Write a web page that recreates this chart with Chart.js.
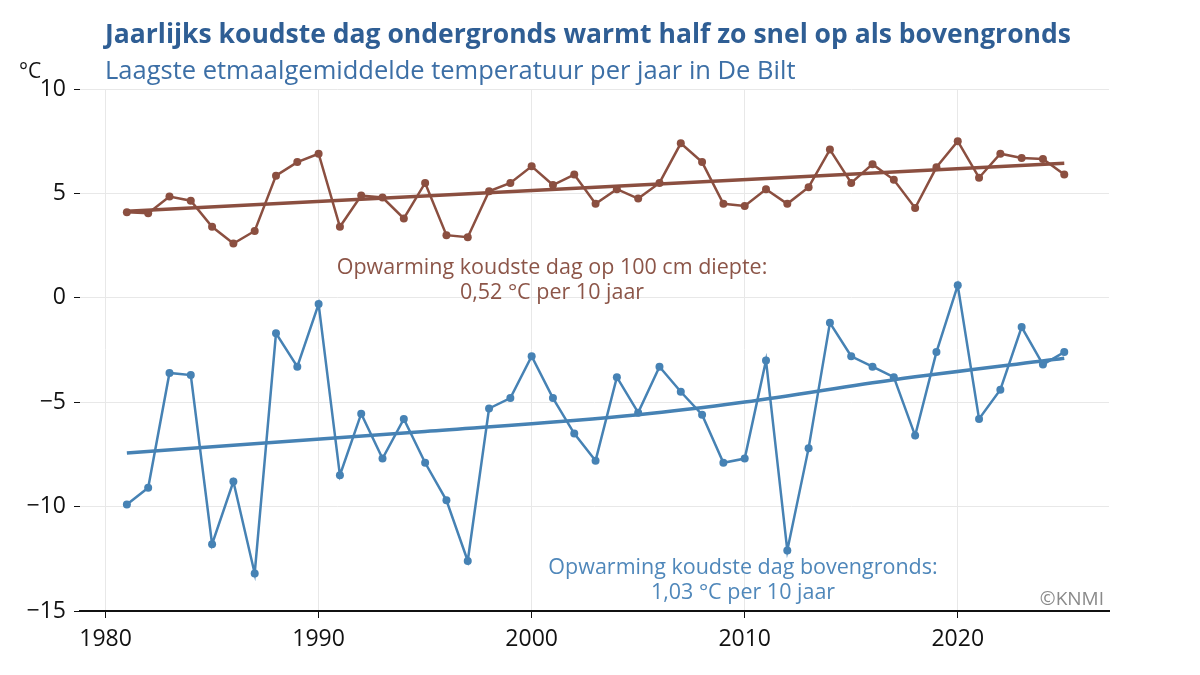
<!DOCTYPE html>
<html>
<head>
<meta charset="utf-8">
<script src="https://cdn.jsdelivr.net/npm/chart.js@4.4.1/dist/chart.umd.min.js"></script>
<style>
  html, body { margin: 0; padding: 0; background: #fff; }
  #wrap { width: 1200px; height: 675px; }
</style>
</head>
<body>
<div id="wrap"><canvas id="grafiek" width="1200" height="675"></canvas></div>
<script>
// jaren 1981 t/m 2025
const jaren = [1981,1982,1983,1984,1985,1986,1987,1988,1989,1990,
               1991,1992,1993,1994,1995,1996,1997,1998,1999,2000,
               2001,2002,2003,2004,2005,2006,2007,2008,2009,2010,
               2011,2012,2013,2014,2015,2016,2017,2018,2019,2020,
               2021,2022,2023,2024,2025];

// koudste dag op 100 cm diepte (°C)
const ondergronds = [4.1,4.05,4.85,4.65,3.4,2.6,3.2,5.85,6.5,6.9,
                     3.4,4.9,4.8,3.8,5.5,3.0,2.9,5.1,5.5,6.3,
                     5.4,5.9,4.5,5.2,4.75,5.5,7.4,6.5,4.5,4.4,
                     5.2,4.5,5.3,7.1,5.5,6.4,5.65,4.3,6.25,7.5,
                     5.75,6.9,6.7,6.65,5.9];

// koudste dag bovengronds (°C)
const bovengronds = [-9.9,-9.1,-3.6,-3.7,-11.8,-8.8,-13.2,-1.7,-3.3,-0.3,
                     -8.5,-5.55,-7.7,-5.8,-7.9,-9.7,-12.6,-5.3,-4.8,-2.8,
                     -4.8,-6.5,-7.8,-3.8,-5.5,-3.3,-4.5,-5.6,-7.9,-7.7,
                     -3.0,-12.1,-7.2,-1.2,-2.8,-3.3,-3.8,-6.6,-2.6,0.6,
                     -5.8,-4.4,-1.4,-3.2,-2.6];

const trendOnderJaren = [1981, 2025];
const trendOnder = [4.15, 6.44];
const trendBovenJaren = [1981, 1995, 2005, 2010, 2017, 2025];
const trendBoven = [-7.43, -6.4, -5.6, -4.99, -3.92, -2.89];

const xTicks = [1980, 1990, 2000, 2010, 2020];

const bruin = "#8b4f40";
const blauw = "#4682b4";
const lettertype = "'Open Sans', 'Noto Sans', sans-serif";

function paren(xs, ys) {
    return xs.map((x, i) => ({ x: x, y: ys[i] }));
}

// titels en teksten op het canvas
const tekstPlugin = {
    id: "teksten",
    afterDraw(chart) {
        const ctx = chart.ctx;
        ctx.save();
        ctx.textBaseline = "middle";

        // titel: schalen tot de breedte in het origineel
        let grootte = 28;
        ctx.font = "bold " + grootte + "px " + lettertype;
        const titel = "Jaarlijks koudste dag ondergronds warmt half zo snel op als bovengronds";
        while (ctx.measureText(titel).width > 973 && grootte > 16) {
            grootte -= 0.5;
            ctx.font = "bold " + grootte + "px " + lettertype;
        }
        ctx.fillStyle = "#2f5e94";
        ctx.textAlign = "left";
        ctx.fillText(titel, 105, 35);

        ctx.font = "25.5px " + lettertype;
        ctx.fillStyle = "#3c6fa6";
        ctx.fillText("Laagste etmaalgemiddelde temperatuur per jaar in De Bilt", 105, 72);

        ctx.fillStyle = "#111";
        ctx.font = "21px " + lettertype;
        ctx.fillText("°C", 19, 72);

        // annotaties
        ctx.textAlign = "center";
        ctx.font = "21.5px " + lettertype;
        ctx.fillStyle = "#8c5548";
        ctx.fillText("Opwarming koudste dag op 100 cm diepte:", 552, 268);
        ctx.fillText("0,52 °C per 10 jaar", 552, 293);

        ctx.fillStyle = "#4f87ba";
        ctx.fillText("Opwarming koudste dag bovengronds:", 743, 568);
        ctx.fillText("1,03 °C per 10 jaar", 743, 593);

        ctx.textAlign = "right";
        ctx.font = "19px " + lettertype;
        ctx.fillStyle = "#8a8a8a";
        ctx.fillText("©KNMI", 1104, 600);
        ctx.restore();
    }
};

new Chart(document.getElementById("grafiek").getContext("2d"), {
    type: "line",
    data: {
        datasets: [
            {
                data: paren(jaren, bovengronds),
                borderColor: blauw,
                backgroundColor: blauw,
                borderWidth: 2.5,
                pointRadius: 4,
                pointBackgroundColor: blauw,
                pointBorderWidth: 0
            },
            {
                data: paren(trendBovenJaren, trendBoven),
                borderColor: blauw,
                borderWidth: 3.5,
                pointRadius: 0,
                cubicInterpolationMode: "monotone"
            },
            {
                data: paren(jaren, ondergronds),
                borderColor: bruin,
                backgroundColor: bruin,
                borderWidth: 2.5,
                pointRadius: 4,
                pointBackgroundColor: bruin,
                pointBorderWidth: 0
            },
            {
                data: paren(trendOnderJaren, trendOnder),
                borderColor: bruin,
                borderWidth: 3.5,
                pointRadius: 0
            }
        ]
    },
    options: {
        responsive: false,
        animation: false,
        layout: { padding: { top: 89, right: 91, left: 0, bottom: 0 } },
        plugins: {
            legend: { display: false },
            tooltip: { enabled: false }
        },
        scales: {
            x: {
                type: "linear",
                min: 1978.8,
                max: 2027.1,
                afterBuildTicks: scale => { scale.ticks = xTicks.map(v => ({ value: v })); },
                afterFit: scale => { scale.height = 64; },
                grid: { color: "#e8e8e8", tickColor: "#111", tickLength: 7, lineWidth: 1 },
                border: { display: true, color: "#111", width: 2 },
                ticks: {
                    color: "#111",
                    font: { family: lettertype, size: 23 },
                    padding: 8,
                    maxRotation: 0,
                    callback: v => String(v)
                }
            },
            y: {
                min: -15,
                max: 10,
                afterFit: scale => { scale.width = 80; },
                grid: { color: "#e8e8e8", tickColor: "#111", tickLength: 6, lineWidth: 1 },
                border: { display: false },
                ticks: {
                    stepSize: 5,
                    color: "#111",
                    font: { family: lettertype, size: 23 },
                    padding: 8,
                    callback: v => (v < 0 ? "\u2212" + Math.abs(v) : String(v))
                }
            }
        }
    },
    plugins: [tekstPlugin]
});
</script>
</body>
</html>
